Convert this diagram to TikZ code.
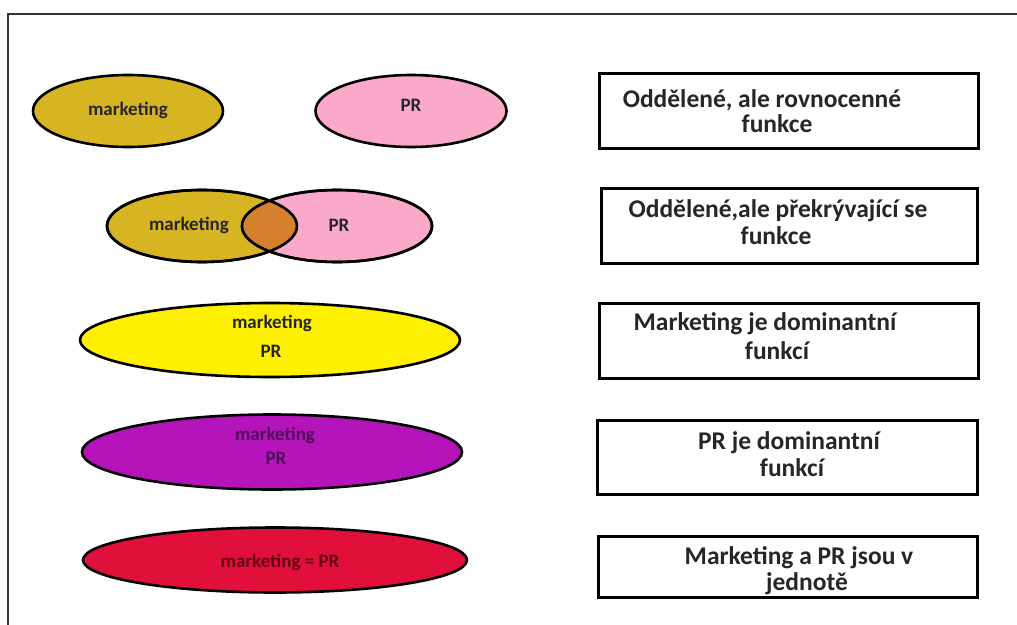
\documentclass[tikz,border=0pt]{standalone}
\usepackage{fontspec}
\setmainfont{Carlito}
\usetikzlibrary{shapes.geometric}
\definecolor{gold}{RGB}{214,180,34}
\definecolor{pinkpr}{RGB}{250,170,200}
\definecolor{lensor}{RGB}{212,128,45}
\definecolor{yel}{RGB}{255,240,0}
\definecolor{purp}{RGB}{180,20,185}
\definecolor{redd}{RGB}{225,16,58}
\definecolor{purptext}{RGB}{80,10,90}
\definecolor{redtext}{RGB}{100,0,20}
\begin{document}
\begin{tikzpicture}[x=1pt,y=-1pt,
  blob/.style={ellipse,draw=black,line width=2.6pt,inner sep=0pt},
  blobtext/.style={font=\bfseries\fontsize{19}{21}\selectfont,text=black!85,inner sep=0pt},
  labelbox/.style={draw=black,line width=3pt,inner sep=0pt,
    minimum width=#1,minimum height=75pt},
  caption/.style={font=\bfseries\fontsize{25.5}{27}\selectfont,text=black!85,inner sep=0pt}]
\useasboundingbox (0,0) rectangle (1017,624);
\fill[white] (0,0) rectangle (1017,624);
% outer frame, running off the right and bottom edges
\begin{scope}
\clip (0,0) rectangle (1017,624);
\draw[line width=1.5pt,black!80] (8,14) rectangle (1040,650);
\end{scope}

% row 1: separate functions
\node[blob,fill=gold,minimum width=190pt,minimum height=72pt] (m1) at (128,111) {};
\node[blobtext] (m1t) at (128,110) {marketing};
\node[blob,fill=pinkpr,minimum width=191pt,minimum height=72pt] (p1) at (411,111) {};
\node[blobtext] (p1t) at (411,105) {PR};

% row 2: overlapping functions
\node[blob,fill=gold,minimum width=190pt,minimum height=72pt] (m2) at (202,226) {};
\node[blob,fill=pinkpr,minimum width=190pt,minimum height=72pt] (p2) at (337,226) {};
\begin{scope}
\clip (m2.center) ellipse (95 and 36);
\fill[lensor] (p2.center) ellipse (95 and 36);
\end{scope}
\draw[line width=2.6pt] (m2.center) ellipse (95 and 36);
\draw[line width=2.6pt] (p2.center) ellipse (95 and 36);
\node[blobtext] (m2t) at (189,225) {marketing};
\node[blobtext] (p2t) at (339,225) {PR};

% rows 3-5: one function covers the other
\node[blob,fill=yel,minimum width=380pt,minimum height=74pt] (e3) at (270,340) {};
\node[blobtext] (e3a) at (272,323) {marketing};
\node[blobtext] (e3b) at (271,351) {PR};
\node[blob,fill=purp,minimum width=380pt,minimum height=75pt] (e4) at (272,452) {};
\node[blobtext,text=purptext] (e4a) at (275,435) {marketing};
\node[blobtext,text=purptext] (e4b) at (276,458) {PR};
\node[blob,fill=redd,minimum width=384pt,minimum height=65pt] (e5) at (275,560) {};
\node[blobtext,text=redtext] (e5a) at (280,562) {marketing = PR};

% description boxes
\node[labelbox=379pt] (b1) at (788.5,110.5) {};
\node[caption] (b1a) at (762,100) {Oddělené, ale rovnocenné};
\node[caption] (b1b) at (777,124) {funkce};
\node[labelbox=376pt,minimum height=75pt] (b2) at (789,225.5) {};
\node[caption] (b2a) at (778,211) {Oddělené,ale překrývající se};
\node[caption] (b2b) at (776,236) {funkce};
\node[labelbox=379pt] (b3) at (788.5,340.5) {};
\node[caption] (b3a) at (765,324) {Marketing je dominantní};
\node[caption] (b3b) at (777,351) {funkcí};
\node[labelbox=380pt,minimum height=74pt] (b4) at (787,457) {};
\node[caption] (b4a) at (789,443) {PR je dominantní};
\node[caption] (b4b) at (792,468) {funkcí};
\node[labelbox=379pt,minimum height=61pt] (b5) at (787.5,566.5) {};
\node[caption] (b5a) at (799,558) {Marketing a PR jsou v};
\node[caption] (b5b) at (807,584) {jednotě};
\end{tikzpicture}
\end{document}
